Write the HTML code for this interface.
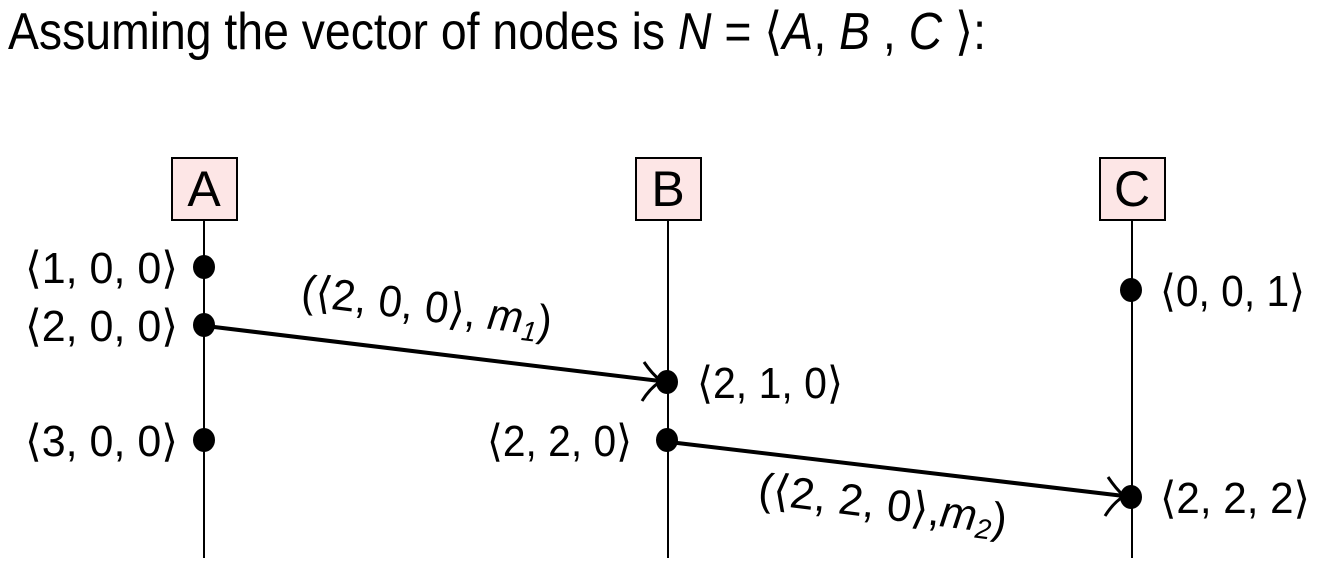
<!DOCTYPE html>
<html><head><meta charset="utf-8"><style>
html,body{margin:0;padding:0;background:#fff;}
svg{display:block;}
text{font-family:"Liberation Sans","DejaVu Sans",sans-serif;fill:#000;}
</style></head><body>
<svg width="1329" height="578" viewBox="0 0 1329 578" xmlns="http://www.w3.org/2000/svg">
<text x="8" y="49" font-size="52" textLength="978" lengthAdjust="spacingAndGlyphs">Assuming the vector of nodes is <tspan font-style="italic">N</tspan> = ⟨<tspan font-style="italic">A</tspan>, <tspan font-style="italic">B</tspan> , <tspan font-style="italic">C</tspan> ⟩:</text>
<g stroke="#000" stroke-width="2">
<rect x="172" y="158" width="65" height="62" fill="#fde6e6"/>
<rect x="636" y="158" width="65" height="62" fill="#fde6e6"/>
<rect x="1100" y="158" width="65" height="62" fill="#fde6e6"/>
<line x1="204" y1="220" x2="204" y2="558"/>
<line x1="668" y1="220" x2="668" y2="558"/>
<line x1="1132" y1="220" x2="1132" y2="558"/>
</g>
<g font-size="50" text-anchor="middle">
<text x="204" y="206">A</text><text x="668" y="206">B</text><text x="1132" y="206">C</text>
</g>
<g fill="#000">
<ellipse cx="204" cy="267" rx="11" ry="12"/>
<ellipse cx="204" cy="325" rx="11" ry="12"/>
<ellipse cx="204" cy="440" rx="11" ry="12"/>
<ellipse cx="667" cy="382" rx="11" ry="12"/>
<ellipse cx="667" cy="440" rx="11" ry="12"/>
<ellipse cx="1131" cy="290" rx="11" ry="12"/>
<ellipse cx="1131" cy="497" rx="11" ry="12"/>
</g>
<g stroke="#000" stroke-width="4" fill="none">
<line x1="206" y1="326" x2="660" y2="381"/>
<path d="M644,362 Q652,374 661,381 Q650,388 642,401" stroke-width="3"/>
<line x1="669" y1="442" x2="1124" y2="496"/>
<path d="M1108,477 Q1116,489 1124,496 Q1113,503 1105,516" stroke-width="3"/>
</g>
<g font-size="44">
<text x="25" y="283" textLength="153" lengthAdjust="spacingAndGlyphs">⟨1, 0, 0⟩</text>
<text x="25" y="341" textLength="153" lengthAdjust="spacingAndGlyphs">⟨2, 0, 0⟩</text>
<text x="25" y="456" textLength="153" lengthAdjust="spacingAndGlyphs">⟨3, 0, 0⟩</text>
<text x="697" y="398" textLength="146" lengthAdjust="spacingAndGlyphs">⟨2, 1, 0⟩</text>
<text x="487" y="456" textLength="145" lengthAdjust="spacingAndGlyphs">⟨2, 2, 0⟩</text>
<text x="1160" y="306" textLength="145" lengthAdjust="spacingAndGlyphs">⟨0, 0, 1⟩</text>
<text x="1160" y="513" textLength="150" lengthAdjust="spacingAndGlyphs">⟨2, 2, 2⟩</text>
<text transform="translate(300,305) rotate(7.2)" textLength="252" lengthAdjust="spacingAndGlyphs">(⟨2, 0, 0⟩, <tspan font-style="italic">m</tspan><tspan font-size="28" dy="7" font-style="italic">1</tspan><tspan dy="-7">)</tspan></text>
<text transform="translate(757,503) rotate(7.2)" textLength="250" lengthAdjust="spacingAndGlyphs">(⟨2, 2, 0⟩,<tspan font-style="italic">m</tspan><tspan font-size="28" dy="7" font-style="italic">2</tspan><tspan dy="-7">)</tspan></text>
</g>
</svg>
</body></html>
